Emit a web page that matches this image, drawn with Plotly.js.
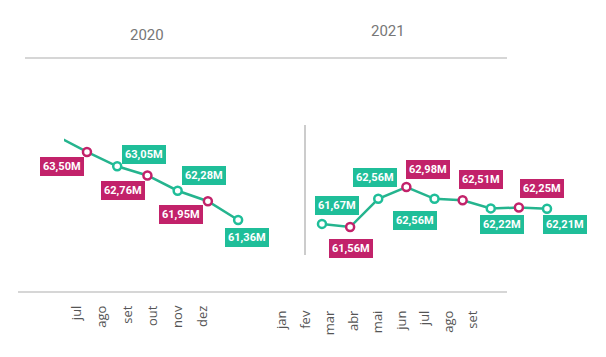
<!DOCTYPE html>
<html>
<head>
<meta charset="utf-8">
<script src="https://cdn.plot.ly/plotly-3.0.1.min.js"></script>
<style>html,body{margin:0;padding:0;background:#fff;}#chart{width:606px;height:357px;}</style>
</head>
<body>
<div id="chart"></div>
<script>
// ---- data ----
const months2020 = ['jun','jul','ago','set','out','nov','dez'];
const values2020 = [64.00, 63.50, 63.05, 62.76, 62.28, 61.95, 61.36];
const labels2020 = ['', '63,50M', '63,05M', '62,76M', '62,28M', '61,95M', '61,36M'];
const months2021 = ['jan','fev','mar','abr','mai','jun','jul','ago','set'];
const values2021 = [61.67, 61.56, 62.56, 62.98, 62.56, 62.51, 62.22, 62.25, 62.21];
const labels2021 = ['61,67M','61,56M','62,56M','62,98M','62,56M','62,51M','62,22M','62,25M','62,21M'];
const ticks2020 = ['jul','ago','set','out','nov','dez'];
const ticks2021 = ['jan','fev','mar','abr','mai','jun','jul','ago','set'];
const years = ['2020','2021'];

// ---- styles ----
const PINK = '#C2226A', GREEN = '#1FBE99', LINE = '#25B48E';
const W = 606, H = 357;
const px = v => v / W, py = v => (H - v) / H;
const col2020 = [GREEN, PINK, GREEN, PINK, GREEN, PINK, GREEN];
const col2021 = [GREEN, PINK, GREEN, PINK, GREEN, PINK, GREEN, PINK, GREEN];
const off2020 = [[0,0],[-25,15],[27,-12],[-24,15],[26,-15],[-27,13],[9,18]];
const off2021 = [[15,-18],[1,21],[-3,-21],[22,-18],[-20,22],[18,-21],[11,16],[23,-19],[18,16]];

function lineTrace(x, y, cols, xa, ya) {
  return {
    x: x, y: y, xaxis: xa, yaxis: ya, type: 'scatter', mode: 'lines+markers',
    line: {color: LINE, width: 2.5},
    marker: {size: 8, color: '#ffffff', line: {color: cols, width: 2.5}},
    hoverinfo: 'skip', showlegend: false
  };
}
const traces = [
  lineTrace(months2020, values2020, col2020, 'x', 'y'),
  lineTrace(months2021, values2021, col2021, 'x2', 'y2'),
  {x: ticks2020, y: ticks2020.map(() => null), xaxis: 'x3', yaxis: 'y3', type: 'scatter', mode: 'markers', showlegend: false, hoverinfo: 'skip'},
  {x: ticks2021, y: ticks2021.map(() => null), xaxis: 'x4', yaxis: 'y4', type: 'scatter', mode: 'markers', showlegend: false, hoverinfo: 'skip'}
];

const annotations = [];
function addLabels(xs, ys, labels, cols, offs, xr, yr) {
  for (let i = 0; i < xs.length; i++) {
    if (!labels[i]) continue;
    annotations.push({
      x: xs[i], y: ys[i], xref: xr, yref: yr, text: labels[i],
      showarrow: true, arrowcolor: 'rgba(0,0,0,0)', arrowwidth: 0.1,
      ax: offs[i][0], ay: offs[i][1],
      bgcolor: cols[i], borderpad: 3, borderwidth: 0,
      font: {family: 'Roboto, sans-serif', size: 11, color: '#ffffff', weight: 'bold'}
    });
  }
}
addLabels(months2020, values2020, labels2020, col2020, off2020, 'x', 'y');
addLabels(months2021, values2021, labels2021, col2021, off2021, 'x2', 'y2');
annotations.push({text: years[0], x: px(147), y: py(35), xref: 'paper', yref: 'paper', showarrow: false,
  xanchor: 'center', yanchor: 'middle',
  font: {family: 'Roboto, sans-serif', size: 15, color: '#777777'}});
annotations.push({text: years[1], x: px(388), y: py(31), xref: 'paper', yref: 'paper', showarrow: false,
  xanchor: 'center', yanchor: 'middle',
  font: {family: 'Roboto, sans-serif', size: 15, color: '#777777'}});

const hidden = {showgrid: false, zeroline: false, showline: false, showticklabels: false, ticks: ''};
const tickAx = {showgrid: false, zeroline: false, showline: false, ticks: '', tickangle: -90, side: 'bottom',
  tickfont: {family: 'Open Sans, sans-serif', size: 13, color: '#555555'}};
const layout = {
  width: W, height: H, margin: {l: 0, r: 0, t: 0, b: 0},
  paper_bgcolor: '#ffffff', plot_bgcolor: 'rgba(0,0,0,0)',
  showlegend: false,
  xaxis: Object.assign({}, hidden, {domain: [px(64), px(275)], type: 'category', categoryorder: 'array', categoryarray: months2020, range: [0.24, 7.22], anchor: 'y'}),
  yaxis: Object.assign({}, hidden, {domain: [py(260), py(120)], range: [60.10, 64.506], anchor: 'x'}),
  xaxis2: Object.assign({}, hidden, {domain: [px(305), px(600)], type: 'category', categoryorder: 'array', categoryarray: months2021, range: [-0.604, 9.884], anchor: 'y2'}),
  yaxis2: Object.assign({}, hidden, {domain: [py(260), py(120)], range: [60.389, 65.358], anchor: 'x2'}),
  xaxis3: Object.assign({}, tickAx, {domain: [px(60), px(230)], type: 'category', categoryorder: 'array', categoryarray: ticks2020, range: [-0.675, 6.071], anchor: 'y3'}),
  xaxis4: Object.assign({}, tickAx, {domain: [px(265), px(500)], type: 'category', categoryorder: 'array', categoryarray: ticks2021, range: [-0.712, 9.131], anchor: 'y4'}),
  yaxis3: {domain: [py(302), py(299)], visible: false, range: [0, 1], anchor: 'x3'},
  yaxis4: {domain: [py(307), py(304)], visible: false, range: [0, 1], anchor: 'x4'},
  shapes: [
    {type: 'line', xref: 'paper', yref: 'paper', x0: px(25), x1: px(507), y0: py(58), y1: py(58), line: {color: '#c8c8c8', width: 1.5}},
    {type: 'line', xref: 'paper', yref: 'paper', x0: px(18), x1: px(507), y0: py(292), y1: py(292), line: {color: '#c8c8c8', width: 1.5}},
    {type: 'line', xref: 'paper', yref: 'paper', x0: px(305), x1: px(305), y0: py(125), y1: py(255), line: {color: '#bbbbbb', width: 1.5}}
  ],
  annotations: annotations
};
Plotly.newPlot('chart', traces, layout, {staticPlot: true, displayModeBar: false});
</script>
</body>
</html>
